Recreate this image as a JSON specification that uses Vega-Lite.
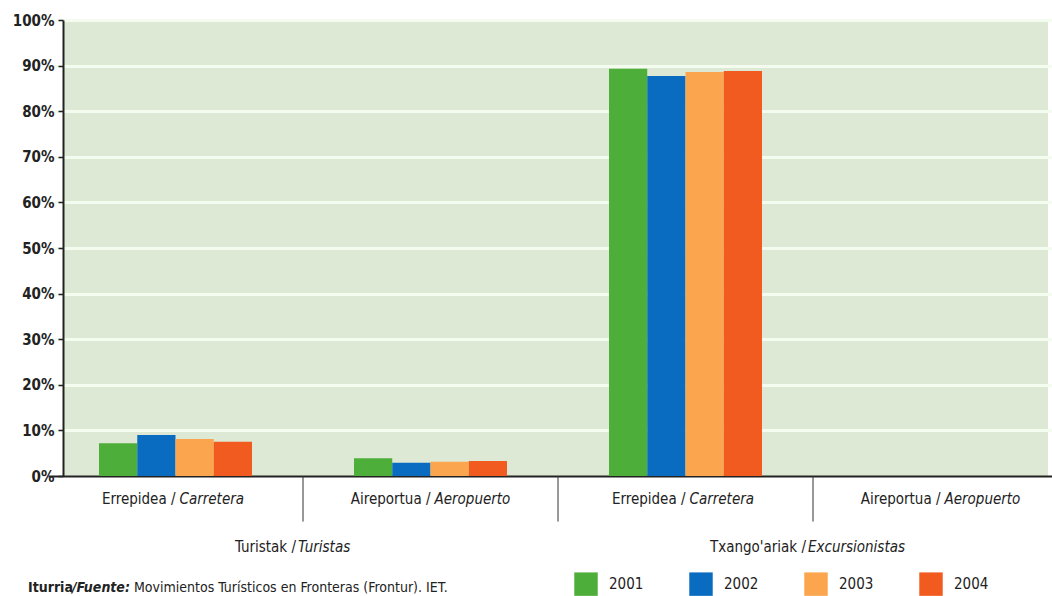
{
  "$schema": "https://vega.github.io/schema/vega-lite/v6.json",
  "width": 985,
  "height": 456,
  "autosize": {"type": "none"},
  "padding": {"left": 63, "top": 20, "right": 4, "bottom": 120},
  "background": "white",
  "config": {
    "view": {"fill": "#dde9d5", "stroke": null},
    "font": "DejaVu Sans Condensed, sans-serif"
  },
  "datasets": {
    "bars": [
      {"cat": "T-Err", "year": "2001", "value": 0.072},
      {"cat": "T-Err", "year": "2002", "value": 0.090},
      {"cat": "T-Err", "year": "2003", "value": 0.081},
      {"cat": "T-Err", "year": "2004", "value": 0.075},
      {"cat": "T-Air", "year": "2001", "value": 0.039},
      {"cat": "T-Air", "year": "2002", "value": 0.029},
      {"cat": "T-Air", "year": "2003", "value": 0.031},
      {"cat": "T-Air", "year": "2004", "value": 0.033},
      {"cat": "X-Err", "year": "2001", "value": 0.893},
      {"cat": "X-Err", "year": "2002", "value": 0.877},
      {"cat": "X-Err", "year": "2003", "value": 0.886},
      {"cat": "X-Err", "year": "2004", "value": 0.888}
    ],
    "cats": [
      {"cat": "T-Err", "a": "Errepidea /", "b": "Carretera"},
      {"cat": "T-Air", "a": "Aireportua /", "b": "Aeropuerto"},
      {"cat": "X-Err", "a": "Errepidea /", "b": "Carretera"},
      {"cat": "X-Air", "a": "Aireportua /", "b": "Aeropuerto"}
    ],
    "dividers": [
      {"cat": "T-Air"},
      {"cat": "X-Err"},
      {"cat": "X-Air"}
    ],
    "groups": [
      {"cat": "T-Air", "a": "Turistak /", "b": "Turistas"},
      {"cat": "X-Air", "a": "Txango'ariak /", "b": "Excursionistas"}
    ],
    "source": [
      {"cat": "T-Err", "a": "Iturria", "b": "/Fuente:", "c": "Movimientos Turísticos en Fronteras (Frontur). IET."}
    ]
  },
  "layer": [
    {
      "data": {"name": "bars"},
      "mark": {"type": "bar"},
      "encoding": {
        "x": {
          "field": "cat",
          "type": "nominal",
          "scale": {"domain": ["T-Err", "T-Air", "X-Err", "X-Air"], "range": [-15, 1005], "paddingInner": 0, "paddingOuter": 0},
          "axis": null
        },
        "xOffset": {
          "field": "year",
          "type": "nominal",
          "scale": {"range": [51, 204], "paddingInner": 0, "paddingOuter": 0}
        },
        "y": {
          "field": "value",
          "type": "quantitative",
          "scale": {"domain": [0, 1], "nice": false, "zero": true},
          "axis": {
            "values": [0, 0.1, 0.2, 0.3, 0.4, 0.5, 0.6, 0.7, 0.8, 0.9, 1],
            "format": ".0%",
            "title": null,
            "domainColor": "#222222",
            "domainWidth": 2,
            "tickColor": "#222222",
            "tickSize": 5,
            "tickWidth": 1.5,
            "labelFont": "DejaVu Sans Condensed, sans-serif",
            "labelFontWeight": "bold",
            "labelFontSize": 15,
            "labelColor": "#222222",
            "labelPadding": 4,
            "grid": true,
            "gridColor": {"condition": {"test": "datum.value === 0", "value": "#222222"}, "value": "#f4fbef"},
            "gridWidth": {"condition": {"test": "datum.value === 0", "value": 2}, "value": 3},
            "gridOpacity": 1
          }
        },
        "color": {
          "field": "year",
          "type": "nominal",
          "scale": {"domain": ["2001", "2002", "2003", "2004"], "range": ["#4eae3a", "#0a6cc0", "#fba64f", "#f25b1f"]},
          "legend": {
            "title": null,
            "orient": "none",
            "direction": "horizontal",
            "legendX": 511,
            "legendY": 552,
            "padding": 0,
            "symbolType": "square",
            "symbolSize": 550,
            "symbolStrokeWidth": 0,
            "symbolOpacity": 1,
            "labelFont": "DejaVu Sans Condensed, sans-serif",
            "labelFontSize": 15,
            "labelColor": "#222222",
            "labelOffset": 11,
            "columnPadding": 45,
            "gridAlign": "all"
          }
        }
      }
    },
    {
      "data": {"name": "dividers"},
      "mark": {"type": "rule", "color": "#333333", "strokeWidth": 1},
      "encoding": {
        "x": {"field": "cat", "type": "nominal", "bandPosition": 0},
        "y": {"datum": 0},
        "y2": {"datum": -0.1}
      }
    },
    {
      "data": {"name": "cats"},
      "mark": {"type": "text", "align": "right", "baseline": "middle", "fontSize": 15, "color": "#222222", "dx": 0},
      "encoding": {
        "x": {"field": "cat", "type": "nominal", "bandPosition": 0.5},
        "y": {"datum": -0.05},
        "text": {"field": "a"}
      }
    },
    {
      "data": {"name": "cats"},
      "mark": {"type": "text", "align": "left", "baseline": "middle", "fontSize": 15, "fontStyle": "italic", "color": "#222222", "dx": 4},
      "encoding": {
        "x": {"field": "cat", "type": "nominal", "bandPosition": 0.5},
        "y": {"datum": -0.05},
        "text": {"field": "b"}
      }
    },
    {
      "data": {"name": "groups"},
      "mark": {"type": "text", "align": "right", "baseline": "middle", "fontSize": 15, "color": "#222222", "dx": -7},
      "encoding": {
        "x": {"field": "cat", "type": "nominal", "bandPosition": 0},
        "y": {"datum": -0.156},
        "text": {"field": "a"}
      }
    },
    {
      "data": {"name": "groups"},
      "mark": {"type": "text", "align": "left", "baseline": "middle", "fontSize": 15, "fontStyle": "italic", "color": "#222222", "dx": -5},
      "encoding": {
        "x": {"field": "cat", "type": "nominal", "bandPosition": 0},
        "y": {"datum": -0.156},
        "text": {"field": "b"}
      }
    },
    {
      "data": {"name": "source"},
      "mark": {"type": "text", "align": "left", "baseline": "middle", "fontSize": 14, "fontWeight": "bold", "color": "#222222", "dx": -20},
      "encoding": {
        "x": {"field": "cat", "type": "nominal", "bandPosition": 0},
        "y": {"datum": -0.245},
        "text": {"field": "a"}
      }
    },
    {
      "data": {"name": "source"},
      "mark": {"type": "text", "align": "left", "baseline": "middle", "fontSize": 14, "fontWeight": "bold", "fontStyle": "italic", "color": "#222222", "dx": 24},
      "encoding": {
        "x": {"field": "cat", "type": "nominal", "bandPosition": 0},
        "y": {"datum": -0.245},
        "text": {"field": "b"}
      }
    },
    {
      "data": {"name": "source"},
      "mark": {"type": "text", "align": "left", "baseline": "middle", "fontSize": 14, "color": "#222222", "dx": 86},
      "encoding": {
        "x": {"field": "cat", "type": "nominal", "bandPosition": 0},
        "y": {"datum": -0.245},
        "text": {"field": "c"}
      }
    }
  ]
}
